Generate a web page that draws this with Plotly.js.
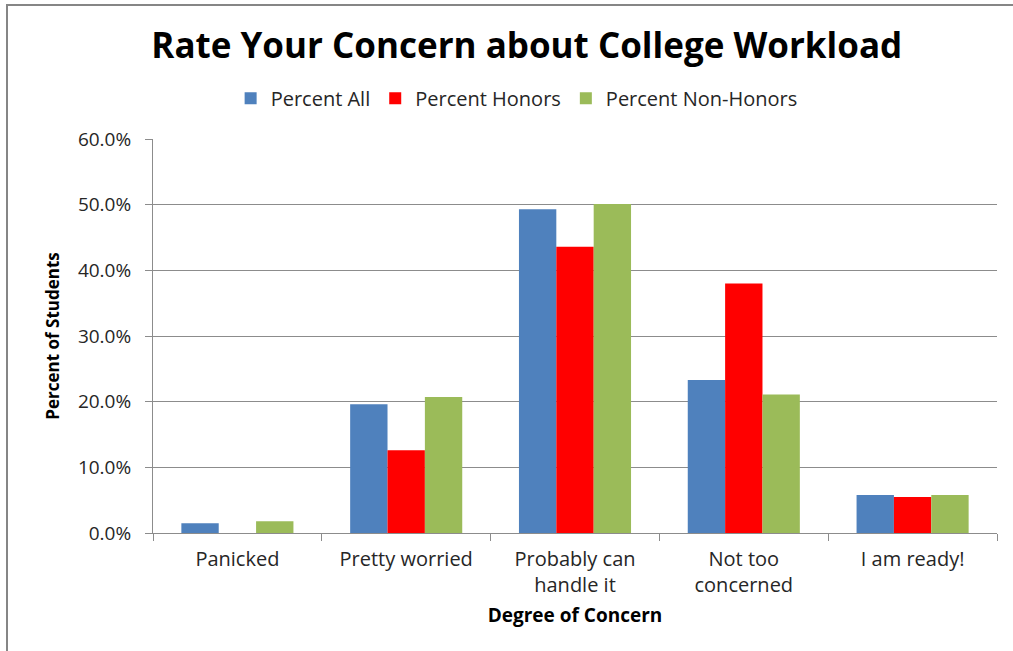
<!DOCTYPE html>
<html>
<head>
<meta charset="utf-8">
<script src="https://cdn.plot.ly/plotly-3.0.1.min.js"></script>
<style>
  html, body { margin: 0; padding: 0; background: #fff; }
  #wrap { position: relative; width: 1013px; height: 651px; overflow: hidden; }
  #chart { position: absolute; left: 0; top: 0; width: 1013px; height: 651px; }
  #frame { position: absolute; left: 6px; top: 4px; width: 1020px; height: 660px;
           border-left: 2px solid #868686; border-top: 2px solid #868686; pointer-events: none; }
</style>
</head>
<body>
<div id="wrap">
  <div id="chart"></div>
  <div id="frame"></div>
</div>
<script>
const categories = ["Panicked", "Pretty worried", "Probably can<br>handle it", "Not too<br>concerned", "I am ready!"];
const seriesNames = ["Percent All", "Percent Honors", "Percent Non-Honors"];
const percentAll = [0.015, 0.196, 0.493, 0.233, 0.058];
const percentHonors = [0.0, 0.126, 0.436, 0.380, 0.055];
const percentNonHonors = [0.018, 0.207, 0.501, 0.211, 0.058];
const colors = ["#4F81BD", "#FF0000", "#9BBB59"];

const values = [percentAll, percentHonors, percentNonHonors];
const FONT = "Open Sans, Calibri, sans-serif";

const data = values.map((v, i) => ({
  type: "bar",
  name: seriesNames[i],
  x: categories,
  y: v,
  marker: { color: colors[i], line: { width: 0 } },
  hoverinfo: "x+y+name"
}));

const layout = {
  width: 1013,
  height: 651,
  margin: { l: 153, r: 16, t: 139, b: 118 },
  paper_bgcolor: "#ffffff",
  plot_bgcolor: "#ffffff",
  barmode: "group",
  bargap: 0.336,
  bargroupgap: 0,
  font: { family: FONT, color: "#404040" },
  title: {
    text: "<b>Rate Your Concern about College Workload</b>",
    font: { family: FONT, size: 35, color: "#000000" },
    x: 0.52, xanchor: "center",
    y: 0.93, yanchor: "middle", yref: "container"
  },
  showlegend: true,
  legend: {
    orientation: "h",
    x: 0.51, xanchor: "center", xref: "container",
    y: 0.849, yanchor: "middle", yref: "container",
    font: { family: FONT, size: 20, color: "#262626" },
    itemwidth: 30,
    traceorder: "normal"
  },
  xaxis: {
    type: "category",
    automargin: false,
    showline: true, linecolor: "#8c8c8c", linewidth: 1,
    ticks: "outside", tickson: "boundaries", ticklen: 7, tickcolor: "#8c8c8c",
    ticklabelstandoff: 8,
    tickfont: { family: FONT, size: 20, color: "#262626" },
    showgrid: false,
    title: {
      text: "<b>Degree of Concern</b>",
      font: { family: FONT, size: 19, color: "#000000" },
      standoff: 11
    }
  },
  yaxis: {
    range: [0, 0.6],
    dtick: 0.1,
    tickformat: ".1%",
    automargin: false,
    showline: true, linecolor: "#8c8c8c", linewidth: 1,
    ticks: "outside", ticklen: 7, tickcolor: "#8c8c8c",
    ticklabelstandoff: 10,
    showgrid: true, gridcolor: "#8c8c8c", gridwidth: 1,
    zeroline: false,
    tickfont: { family: FONT, size: 19, color: "#262626" },
    title: {
      text: "<b>Percent of Students</b>",
      font: { family: FONT, size: 17, color: "#000000" },
      standoff: 13
    }
  }
};

Plotly.newPlot("chart", data, layout, { displayModeBar: false, staticPlot: true });
</script>
</body>
</html>
